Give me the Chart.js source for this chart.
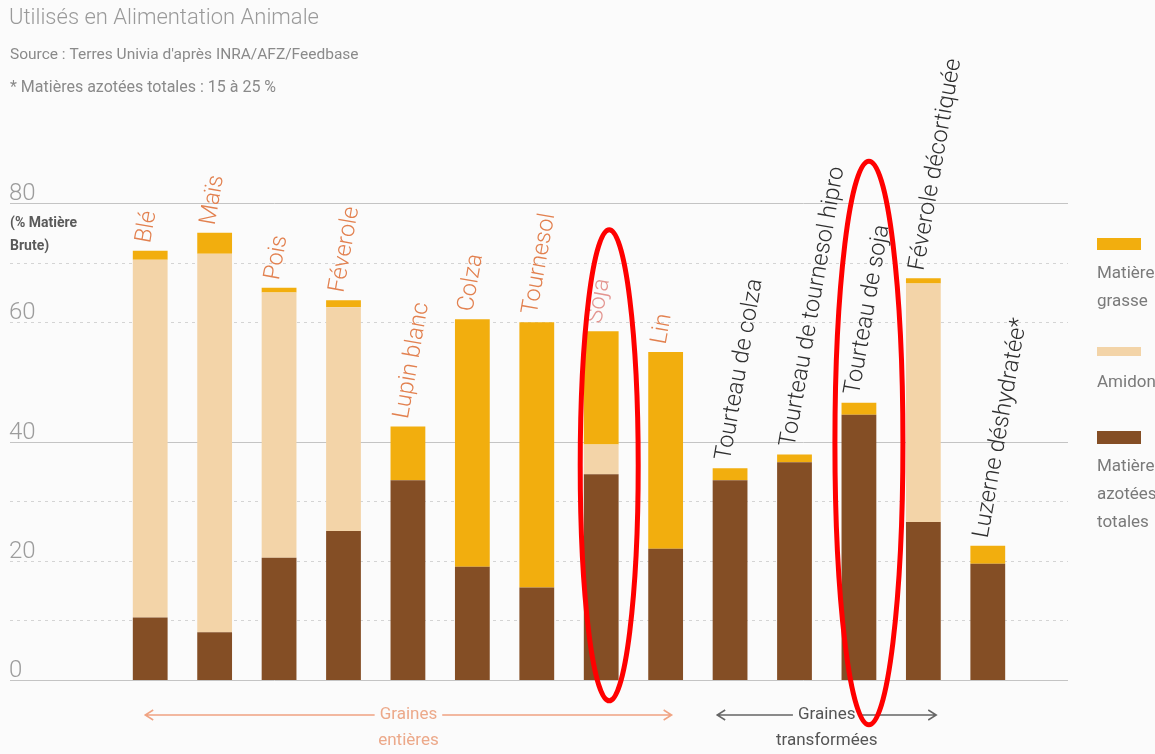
<!DOCTYPE html>
<html>
<head>
<meta charset="utf-8">
<script src="https://cdn.jsdelivr.net/npm/chart.js@4/dist/chart.umd.min.js"></script>
<style>
  html, body { margin: 0; padding: 0; background: #fbfbfb; }
  #wrap { width: 1155px; height: 754px; position: relative; }
</style>
</head>
<body>
<div id="wrap"><canvas id="chart"></canvas></div>
<script>
// data (% matière brute)
const categories = ['Blé', 'Maïs', 'Pois', 'Féverole', 'Lupin blanc', 'Colza', 'Tournesol', 'Soja', 'Lin',
    'Tourteau de colza', 'Tourteau de tournesol hipro', 'Tourteau de soja', 'Féverole décortiquée', 'Luzerne déshydratée*'];
const proteines = [10.5, 8, 20.5, 25, 33.5, 19, 15.5, 34.5, 22, 33.5, 36.5, 44.5, 26.5, 19.5];
const amidon    = [60, 63.5, 44.5, 37.5, 0, 0, 0, 5, 0, 0, 0, 0, 40, 0];
const grasse    = [1.5, 3.5, 0.8, 1.2, 9, 41.5, 44.5, 19, 33, 2, 1.3, 2, 0.9, 3];
const yTicks = [0, 20, 40, 60, 80];
const gridSolid = [0, 40, 80];
const gridDotted = [10, 20, 30, 60, 70];
const nbEntieres = 9;   // first 9 = graines entières, rest = transformées
// red circled bars, with the value range each ellipse covers
const highlighted = ['Soja', 'Tourteau de soja'];
const highlightRange = [[-3.5, 75.5], [-7.5, 87]];

const C_PROT = '#844e25', C_AMID = '#f3d4a8', C_GRAS = '#f2ae0e';
const NARROW = "'Liberation Sans Narrow', 'Roboto', sans-serif";

const decor = {
    id: 'decor',
    beforeDraw(chart) {
        const ctx = chart.ctx, y = chart.scales.y;
        ctx.save();
        ctx.fillStyle = '#fbfbfb';
        ctx.fillRect(0, 0, chart.width, chart.height);

        // header
        ctx.fillStyle = '#9a9a9a';
        ctx.textBaseline = 'middle';
        ctx.font = "300 22px Roboto, sans-serif";
        ctx.fillText('Utilisés en Alimentation Animale', 9, 18);
        ctx.fillStyle = '#8a8a8a';
        ctx.font = "15.5px " + NARROW;
        ctx.fillText("Source : Terres Univia d'après INRA/AFZ/Feedbase", 10, 55);
        ctx.font = "16px " + NARROW;
        ctx.fillText('* Matières azotées totales : 15 à 25 %', 10, 88);

        // grid, wider than the plot area
        ctx.strokeStyle = '#c4c4c4';
        ctx.lineWidth = 1;
        gridSolid.forEach(v => {
            const py = Math.round(y.getPixelForValue(v)) + 0.5;
            ctx.setLineDash([]);
            ctx.beginPath(); ctx.moveTo(10, py); ctx.lineTo(1068, py); ctx.stroke();
        });
        ctx.strokeStyle = '#d4d4d4';
        gridDotted.forEach(v => {
            const py = Math.round(y.getPixelForValue(v)) + 0.5;
            ctx.setLineDash([3, 4]);
            ctx.beginPath(); ctx.moveTo(10, py); ctx.lineTo(1068, py); ctx.stroke();
        });
        ctx.setLineDash([]);

        // tick labels above the lines
        ctx.fillStyle = '#9c9c9c';
        ctx.font = "300 24px Roboto, sans-serif";
        ctx.textBaseline = 'alphabetic';
        yTicks.forEach(v => ctx.fillText(String(v), 9, y.getPixelForValue(v) - 3));

        ctx.fillStyle = '#5a5a5a';
        ctx.font = "bold 14px " + NARROW;
        ctx.fillText('(% Matière', 10, 227);
        ctx.fillText('Brute)', 10, 250);

        // legend on the right
        const items = [
            { c: C_GRAS, y: 238, h: 12, lines: ['Matière', 'grasse'] },
            { c: C_AMID, y: 347, h: 9, lines: ['Amidon'] },
            { c: C_PROT, y: 431, h: 13, lines: ['Matière', 'azotées', 'totales'] }
        ];
        ctx.font = "17px " + NARROW;
        items.forEach(it => {
            ctx.fillStyle = it.c;
            ctx.fillRect(1097, it.y, 44, it.h);
            ctx.fillStyle = '#7a7a7a';
            it.lines.forEach((t, i) => ctx.fillText(t, 1097, it.y + 40 + i * 28));
        });
        ctx.restore();
    },
    afterDatasetsDraw(chart) {
        const ctx = chart.ctx, x = chart.scales.x, y = chart.scales.y;
        ctx.save();

        // rotated category labels above each bar
        ctx.font = "300 23.5px Roboto, sans-serif";
        ctx.textBaseline = 'middle';
        ctx.textAlign = 'left';
        categories.forEach((cat, i) => {
            const total = proteines[i] + amidon[i] + grasse[i];
            const px = x.getPixelForValue(i) - 6;
            const py = y.getPixelForValue(total) - 8;
            ctx.save();
            ctx.translate(px, py);
            ctx.rotate(-80 * Math.PI / 180);
            ctx.fillStyle = i < nbEntieres ? (cat === 'Soja' ? '#e39590' : '#e2804f') : '#2f2f2f';
            ctx.fillText(cat, 0, 0);
            ctx.restore();
        });

        // group arrows
        const arrow = (x1, x2, py, color, textColor, l1, l2) => {
            ctx.font = "17px " + NARROW;
            ctx.textAlign = 'center';
            ctx.textBaseline = 'middle';
            const mid = (x1 + x2) / 2;
            const w = ctx.measureText(l1).width / 2 + 5;
            ctx.strokeStyle = color;
            ctx.lineWidth = 1.5;
            ctx.beginPath();
            ctx.moveTo(x1, py); ctx.lineTo(mid - w, py);
            ctx.moveTo(mid + w, py); ctx.lineTo(x2, py);
            ctx.moveTo(x1 + 8, py - 5); ctx.lineTo(x1, py); ctx.lineTo(x1 + 8, py + 5);
            ctx.moveTo(x2 - 8, py - 5); ctx.lineTo(x2, py); ctx.lineTo(x2 - 8, py + 5);
            ctx.stroke();
            ctx.fillStyle = textColor;
            ctx.fillText(l1, mid, py);
            ctx.fillText(l2, mid, py + 26);
        };
        const step = x.getPixelForValue(1) - x.getPixelForValue(0);
        arrow(x.getPixelForValue(0) - 5, x.getPixelForValue(nbEntieres - 1) + 6, 715,
              '#f0a382', '#eca98a', 'Graines', 'entières');
        arrow(x.getPixelForValue(nbEntieres) - step * 0.2, x.getPixelForValue(categories.length - 2) + step * 0.2, 715,
              '#666666', '#555555', 'Graines', 'transformées');

        // red highlight ellipses
        ctx.strokeStyle = '#ff0000';
        ctx.lineWidth = 5;
        highlighted.forEach((name, k) => {
            const i = categories.indexOf(name);
            const cx = x.getPixelForValue(i) + (k === 0 ? 8 : 10);
            const top = y.getPixelForValue(highlightRange[k][1]);
            const bot = y.getPixelForValue(highlightRange[k][0]);
            const rx = k === 0 ? 29 : 34;
            ctx.beginPath();
            ctx.ellipse(cx, (top + bot) / 2, rx, (bot - top) / 2, 0, 0, Math.PI * 2);
            ctx.stroke();
        });
        ctx.restore();
    }
};

new Chart(document.getElementById('chart'), {
    type: 'bar',
    data: {
        labels: categories,
        datasets: [
            { label: 'Matières azotées totales', data: proteines, backgroundColor: C_PROT },
            { label: 'Amidon', data: amidon, backgroundColor: C_AMID },
            { label: 'Matière grasse', data: grasse, backgroundColor: C_GRAS }
        ]
    },
    options: {
        responsive: true,
        maintainAspectRatio: false,
        animation: false,
        layout: { padding: { left: 118, right: 135, top: 203, bottom: 74 } },
        datasets: { bar: { barPercentage: 0.9, categoryPercentage: 0.6, borderWidth: 0 } },
        plugins: { legend: { display: false }, tooltip: { enabled: false } },
        scales: {
            x: { stacked: true, display: false },
            y: { stacked: true, display: false, min: 0, max: 80 }
        }
    },
    plugins: [decor]
});
</script>
</body>
</html>
